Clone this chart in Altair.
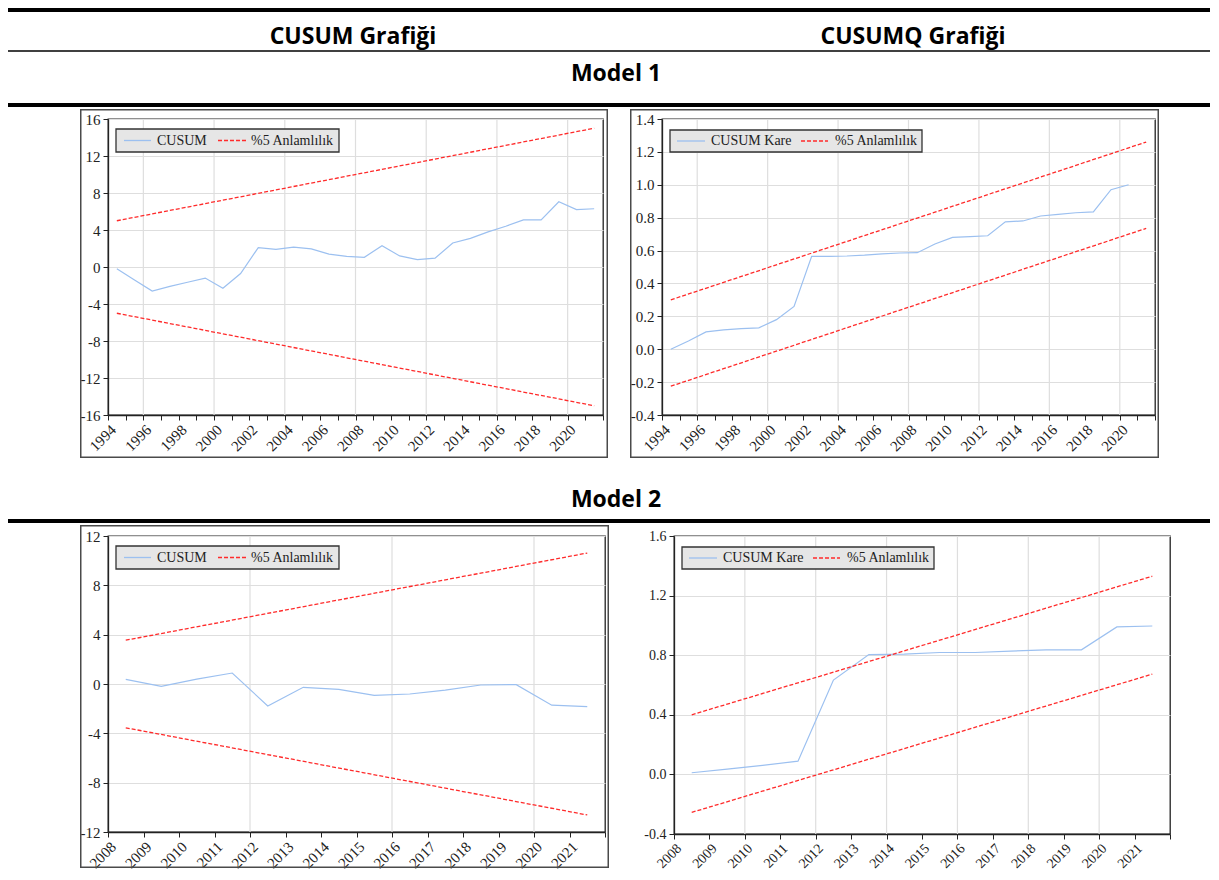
import altair as alt
import pandas as pd

# ---------------- data ----------------
years_m1 = list(range(1994, 2022))
cusum_m1 = [-0.2, -1.4, -2.6, -2.1, -1.65, -1.2, -2.3, -0.7, 2.1, 1.9, 2.15, 1.95, 1.4, 1.15,
            1.05, 2.3, 1.2, 0.8, 0.95, 2.6, 3.1, 3.8, 4.4, 5.1, 5.1, 7.05, 6.2, 6.3]
years_q1 = list(range(1994, 2021))
cusumq_m1 = [0.0, 0.05, 0.105, 0.118, 0.125, 0.13, 0.18, 0.26, 0.565, 0.565, 0.567, 0.572,
             0.58, 0.585, 0.587, 0.64, 0.68, 0.685, 0.69, 0.775, 0.78, 0.81, 0.82, 0.83,
             0.835, 0.97, 1.0]
bound_years_m1 = [1994, 2021]
cusum_m1_upper = [5.0, 15.0]
cusum_m1_lower = [-5.0, -15.0]
cusumq_m1_upper = [0.30, 1.26]
cusumq_m1_lower = [-0.225, 0.735]

years_m2 = list(range(2008, 2022))
cusum_m2 = [0.38, -0.19, 0.4, 0.89, -1.78, -0.27, -0.43, -0.92, -0.81, -0.49, -0.08, -0.05,
            -1.72, -1.83]
cusumq_m2 = [0.011, 0.036, 0.06, 0.089, 0.633, 0.804, 0.807, 0.818, 0.818, 0.827, 0.836,
             0.836, 0.99, 0.996]
bound_years_m2 = [2008, 2021]
cusum_m2_upper = [3.55, 10.62]
cusum_m2_lower = [-3.55, -10.62]
cusumq_m2_upper = [0.40, 1.33]
cusumq_m2_lower = [-0.255, 0.673]

xticks_m1 = list(range(1994, 2023))
xticks_m2 = list(range(2008, 2023))
grid_years_a = [1996, 2000, 2004, 2008, 2012, 2016, 2020]
grid_years_c = [2012, 2016, 2020]
grid_years_d = [2010, 2012, 2014, 2016, 2018, 2020]
yticks_cusum_m1 = [-16, -12, -8, -4, 0, 4, 8, 12, 16]
yticks_cusumq_m1 = [-0.4, -0.2, 0.0, 0.2, 0.4, 0.6, 0.8, 1.0, 1.2, 1.4]
yticks_cusum_m2 = [-12, -8, -4, 0, 4, 8, 12]
yticks_cusumq_m2 = [-0.4, 0.0, 0.4, 0.8, 1.2, 1.6]

column_titles = ["CUSUM Grafiği", "CUSUMQ Grafiği"]
model_titles = ["Model 1", "Model 2"]
legend_cusum = ["CUSUM", "%5 Anlamlılık"]
legend_cusumq = ["CUSUM Kare", "%5 Anlamlılık"]

# ---------------- styling ----------------
BLUE = "#9cc0f0"
RED = "#ff2b2b"
GRID = "#dedede"
SERIF = "Liberation Serif"
one = pd.DataFrame({"k": [0]})

LEG_SHORT = dict(box=(8, 10, 231, 33), blue=(16, 43), t1=49, red=(110, 138), t2=143, ym=21.5)
LEG_LONG = dict(box=(8, 11, 260, 33), blue=(15, 43), t1=49, red=(139, 166), t2=173, ym=22)


def vrect(x, x2, y, y2, **kw):
    return alt.Chart(one).mark_rect(**kw).encode(
        x=alt.value(x), x2=alt.value(x2), y=alt.value(y), y2=alt.value(y2))


def frame_layers(x0, x1, y0, y1, t=1.5, color="#4a4a4a"):
    return [
        vrect(x0, x1, y0, y0 + t, fill=color),
        vrect(x0, x1, y1 - t, y1, fill=color),
        vrect(x0, x0 + t, y0, y1, fill=color),
        vrect(x1 - t, x1, y0, y1, fill=color),
    ]


def legend_layers(labels, g):
    bx, by, bx2, by2 = g["box"]
    box = vrect(bx, bx2, by, by2, fill="#e6e6e6", stroke="#333333", strokeWidth=1.3)
    b = alt.Chart(one).mark_rule(color=BLUE, strokeWidth=1.3).encode(
        x=alt.value(g["blue"][0]), x2=alt.value(g["blue"][1]), y=alt.value(g["ym"]))
    r = alt.Chart(one).mark_rule(color=RED, strokeWidth=1.3, strokeDash=[4, 2]).encode(
        x=alt.value(g["red"][0]), x2=alt.value(g["red"][1]), y=alt.value(g["ym"]))
    t1 = alt.Chart(pd.DataFrame({"t": [labels[0]]})).mark_text(
        font=SERIF, fontSize=14, align="left", baseline="middle", color="#222222").encode(
        text="t:N", x=alt.value(g["t1"]), y=alt.value(g["ym"]))
    t2 = alt.Chart(pd.DataFrame({"t": [labels[1]]})).mark_text(
        font=SERIF, fontSize=14, align="left", baseline="middle", color="#222222").encode(
        text="t:N", x=alt.value(g["t2"]), y=alt.value(g["ym"]))
    return [box, b, r, t1, t2]


def make_panel(years, values, b_years, upper, lower, xdom, xticks, xlabel_expr, grid_years,
               ydom, yticks, yfmt, w, h, labels, leg, frame, framed=True, fs=15):
    xs = alt.Scale(domain=xdom, nice=False, zero=False)
    ys = alt.Scale(domain=ydom, nice=False, zero=False)
    last = xdom[1]
    xax = alt.Axis(values=xticks, format="d", labelExpr=xlabel_expr, labelAngle=-45,
                   labelOverlap=False, labelFlush=False, grid=False, title=None,
                   tickSize=5, labelPadding=2,
                   labelFontSize={"condition": {"test": f"datum.value >= {last}", "value": 0},
                                  "value": fs})
    yax = alt.Axis(values=yticks, format=yfmt,
                   labelExpr="replace(datum.label, '\u2212', '-')",
                   grid=True, title=None, tickSize=5, labelPadding=3,
                   labelOverlap=False, labelFlush=False, labelFontSize=fs)

    line_df = pd.DataFrame({"x": [y + 0.5 for y in years], "v": values})
    bound_df = pd.DataFrame({
        "x": [y + 0.5 for y in b_years] * 2,
        "v": upper + lower,
        "part": ["upper"] * len(upper) + ["lower"] * len(lower),
    })
    grid_df = pd.DataFrame({"x": grid_years})

    fx, fx2, fy, fy2 = frame
    if framed:
        fr = frame_layers(fx, fx2, fy, fy2)
    else:
        fr = [vrect(fx, fx2, fy, fy2, fillOpacity=0)]

    grid = alt.Chart(grid_df).mark_rule(color=GRID, strokeWidth=1.2).encode(
        x=alt.X("x:Q", scale=xs, axis=xax))
    blue = alt.Chart(line_df).mark_line(color=BLUE, strokeWidth=1.2).encode(
        x=alt.X("x:Q", scale=xs, axis=xax), y=alt.Y("v:Q", scale=ys, axis=yax))
    red = alt.Chart(bound_df).mark_line(color=RED, strokeWidth=1.3, strokeDash=[4, 2]).encode(
        x=alt.X("x:Q", scale=xs, axis=xax), y=alt.Y("v:Q", scale=ys, axis=yax),
        detail="part:N")

    return alt.layer(*fr, grid, blue, red, *legend_layers(labels, leg)).properties(
        width=w, height=h)


even_expr = "datum.value % 2 == 0 && datum.value <= 2020 ? datum.label : ''"
all_expr = "datum.value <= 2021 ? datum.label : ''"

panel_a = make_panel(years_m1, cusum_m1, bound_years_m1, cusum_m1_upper, cusum_m1_lower,
                     [1994, 2022], xticks_m1, even_expr, grid_years_a,
                     [-16, 16], yticks_cusum_m1, "d", 495, 296, legend_cusum, LEG_SHORT,
                     (-28, 500, -10, 339))
panel_b = make_panel(years_q1, cusumq_m1, bound_years_m1, cusumq_m1_upper, cusumq_m1_lower,
                     [1994, 2022], xticks_m1, even_expr, grid_years_a,
                     [-0.4, 1.4], yticks_cusumq_m1, ".1f", 493, 296, legend_cusumq, LEG_LONG,
                     (-32, 497, -10, 339))
panel_c = make_panel(years_m2, cusum_m2, bound_years_m2, cusum_m2_upper, cusum_m2_lower,
                     [2008, 2022], xticks_m2, all_expr, grid_years_c,
                     [-12, 12], yticks_cusum_m2, "d", 497, 296, legend_cusum, LEG_SHORT,
                     (-28, 501, -11, 332))
panel_d = make_panel(years_m2, cusumq_m2, bound_years_m2, cusumq_m2_upper, cusumq_m2_lower,
                     [2008, 2022], xticks_m2, all_expr, grid_years_d,
                     [-0.4, 1.6], yticks_cusumq_m2, ".1f", 496, 298, legend_cusumq, LEG_LONG,
                     (-40, 496, -11, 298), framed=False, fs=14)


# ---------------- header bands ----------------
def hbar(y0, y1, x0=-100, x1=1102):
    return vrect(x0, x1, y0, y1, fill="black")


def htext(txt, xc, yc):
    return alt.Chart(pd.DataFrame({"t": [txt]})).mark_text(
        font="Open Sans", fontWeight="bold", fontSize=23, align="center",
        baseline="middle", color="black").encode(
        text="t:N", x=alt.value(xc), y=alt.value(yc))


header1 = alt.layer(
    hbar(0, 4),
    htext(column_titles[0], 245, 28.5),
    htext(column_titles[1], 805, 28.5),
    hbar(42.25, 43.75),
    htext(model_titles[0], 508, 65.5),
    hbar(95, 99),
).properties(width=1000, height=99, view=alt.ViewBackground(strokeOpacity=0))

header2 = alt.layer(
    htext(model_titles[1], 508, 40),
    hbar(59, 63),
).properties(width=1000, height=63, view=alt.ViewBackground(strokeOpacity=0))

row1 = alt.hconcat(panel_a, panel_b, spacing=20)
row3 = alt.hconcat(panel_c, panel_d, spacing=23)

chart = alt.vconcat(header1, row1, header2, row3, spacing=1).properties(
    padding=0, background="white"
).configure_view(
    stroke="#222222", strokeWidth=1.3
).configure_axis(
    domainColor="#222222", domainWidth=1.3, tickColor="#222222", tickWidth=1,
    labelFont=SERIF, labelFontSize=14, labelColor="#222222",
    gridColor=GRID, gridWidth=1.2
)

chart.save("out.html", embed_options={"renderer": "svg", "actions": False})
